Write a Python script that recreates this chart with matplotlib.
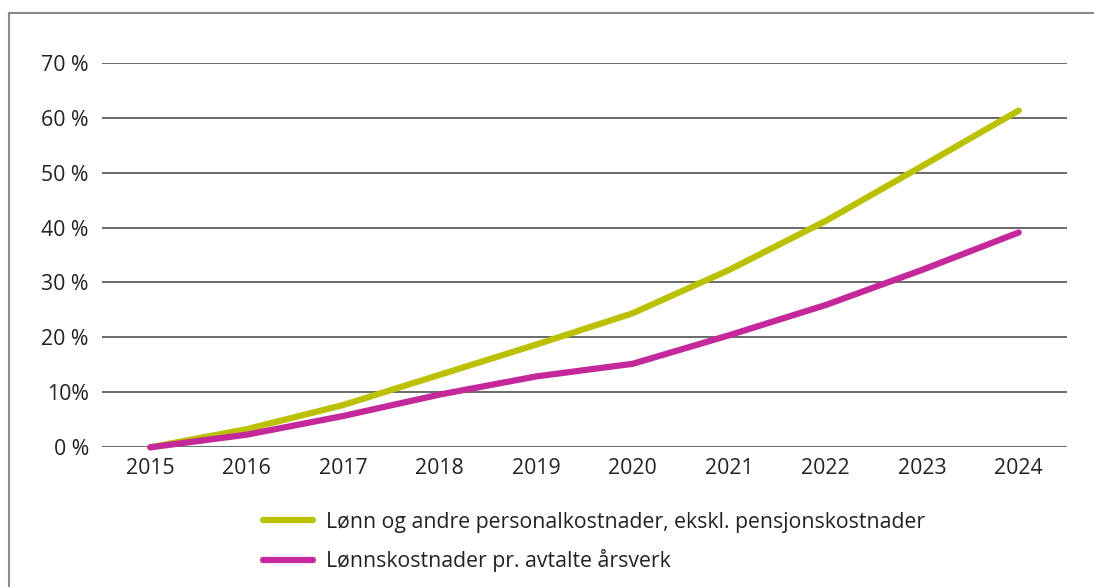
import matplotlib.pyplot as plt
from matplotlib.lines import Line2D

plt.rcParams['font.family'] = ['Open Sans', 'DejaVu Sans']

years = ["2015", "2016", "2017", "2018", "2019", "2020", "2021", "2022", "2023", "2024"]
lonn_personal = [0, 3.3, 7.7, 13.2, 18.7, 24.4, 32.3, 41.2, 51.2, 61.3]
lonn_aarsverk = [0, 2.3, 5.7, 9.6, 12.9, 15.2, 20.4, 25.9, 32.3, 39.1]
labels = ["Lønn og andre personalkostnader, ekskl. pensjonskostnader",
          "Lønnskostnader pr. avtalte årsverk"]
ytick_vals = [0, 10, 20, 30, 40, 50, 60, 70]
ytick_labels = ["0 %", "10%", "20 %", "30 %", "40 %", "50 %", "60 %", "70 %"]

green = "#BBC000"
magenta = "#C4289A"

W, H = 1094, 587
fig = plt.figure(figsize=(W / 100, H / 100), dpi=100)

# frame: left and top edges only (rest runs off the picture)
top = 1 - 13 / H
left = 9 / W
fig.add_artist(Line2D([left, left], [0, top], transform=fig.transFigure, color="#8a8a8a", lw=1.5))
fig.add_artist(Line2D([left, 1], [top, top], transform=fig.transFigure, color="#8a8a8a", lw=1.5))

ax = fig.add_axes([102 / W, 1 - 447.3 / H, (1067 - 102) / W, (447.3 - 62.7) / H])

x = range(len(years))
ax.plot(x, lonn_personal, color=green, lw=4.5, solid_capstyle="round", clip_on=False,
        label=labels[0], zorder=3)
ax.plot(x, lonn_aarsverk, color=magenta, lw=4.5, solid_capstyle="round", clip_on=False,
        label=labels[1], zorder=4)

ax.set_xlim(-0.5, len(years) - 0.5)
ax.set_ylim(0, 70)
ax.set_yticks(ytick_vals)
ax.set_yticklabels(ytick_labels)
ax.set_xticks(list(x))
ax.set_xticklabels(years)
ax.yaxis.grid(True, color="#505050", lw=1.2)
ax.set_axisbelow(True)
for s in ax.spines.values():
    s.set_visible(False)
ax.tick_params(axis="both", length=0, labelsize=15.3, colors="#222222")
ax.tick_params(axis="y", pad=9.5)
ax.tick_params(axis="x", pad=8)

ax.legend(loc="upper left", bbox_to_anchor=(252 / W, 1 - 501 / H), bbox_transform=fig.transFigure,
          frameon=False, fontsize=15.3, handlelength=2.35, handletextpad=0.62,
          labelspacing=0.78, borderpad=0, labelcolor="#222222")

fig.savefig("out.png", dpi=100)
